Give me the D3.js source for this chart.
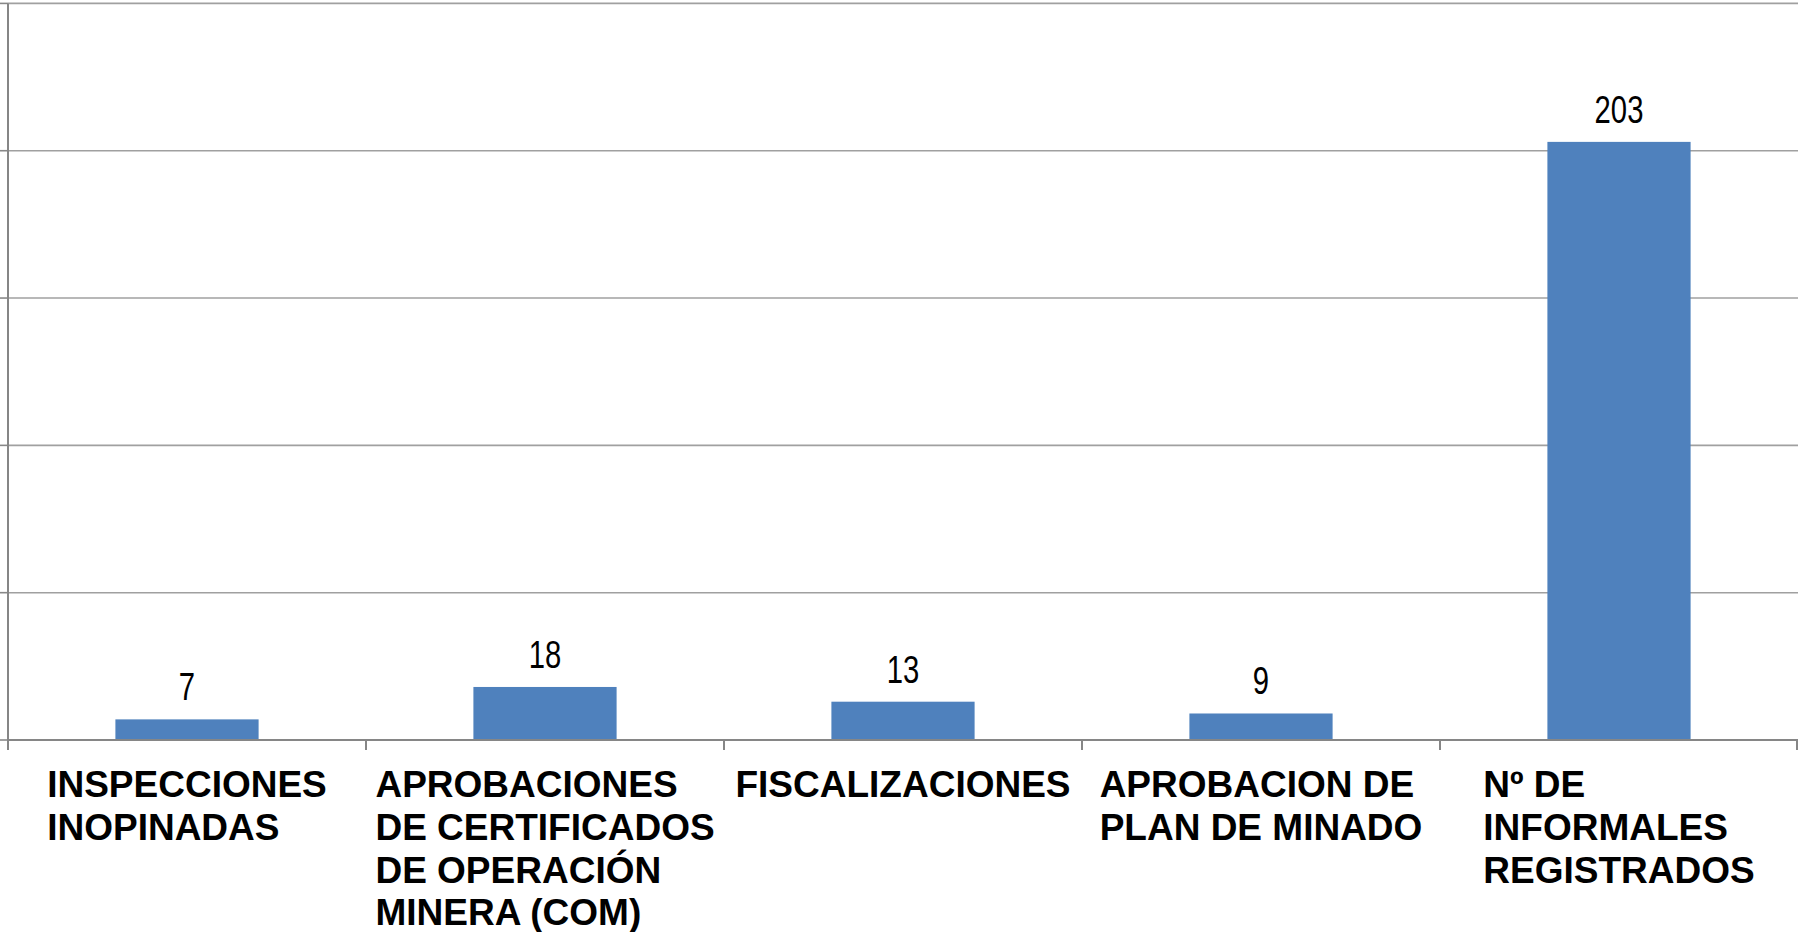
<!DOCTYPE html>
<html>
<head>
<meta charset="utf-8">
<script src="https://cdn.jsdelivr.net/npm/d3@7"></script>
<style>
  html, body { margin: 0; padding: 0; background: #fff; overflow: hidden; }
</style>
</head>
<body>
<div id="chart"></div>
<script>
// Data
var categories = ["INSPECCIONES INOPINADAS",
                  "APROBACIONES DE CERTIFICADOS DE OPERACIÓN MINERA (COM)",
                  "FISCALIZACIONES",
                  "APROBACION DE PLAN DE MINADO",
                  "Nº DE INFORMALES REGISTRADOS"];
var labelLines = [
    ["INSPECCIONES", "INOPINADAS"],
    ["APROBACIONES", "DE CERTIFICADOS", "DE OPERACIÓN", "MINERA (COM)"],
    ["FISCALIZACIONES"],
    ["APROBACION DE", "PLAN DE MINADO"],
    ["Nº DE", "INFORMALES", "REGISTRADOS"]
];
var values = [7, 18, 13, 9, 203];
var yTicks = [0, 50, 100, 150, 200, 250];

var width = 1798, height = 932;
var plotLeft = 8, plotRight = 1798, plotTop = 3.4, plotBottom = 740;

var svg = d3.select("#chart")
    .append("svg")
    .attr("width", width)
    .attr("height", height);

var y = d3.scaleLinear()
    .domain([0, 250])
    .range([plotBottom, plotTop]);

// boundaries of each category
var xCat = d3.scaleBand()
    .domain(categories)
    .range([plotLeft, plotRight])
    .padding(0);

// bars sit in the middle 40% of each category
var x = d3.scaleBand()
    .domain(categories)
    .range([plotLeft, plotRight])
    .paddingInner(0.6)
    .paddingOuter(0.3);

// gridlines
svg.append("g")
    .selectAll("line")
    .data(yTicks.slice(1))
    .enter().append("line")
    .attr("x1", plotLeft)
    .attr("x2", plotRight)
    .attr("y1", d => y(d))
    .attr("y2", d => y(d))
    .attr("stroke", "#a0a0a0")
    .attr("stroke-width", 1.6);

// y axis with ticks, labels are cut off to the left
svg.append("g")
    .selectAll("line")
    .data(yTicks)
    .enter().append("line")
    .attr("x1", 0)
    .attr("x2", plotLeft)
    .attr("y1", d => y(d))
    .attr("y2", d => y(d))
    .attr("stroke", "#888")
    .attr("stroke-width", 1.6);

svg.append("line")
    .attr("x1", plotLeft).attr("x2", plotLeft)
    .attr("y1", y(250)).attr("y2", plotBottom + 10)
    .attr("stroke", "#868686")
    .attr("stroke-width", 2);

// bars
svg.append("g")
    .selectAll("rect")
    .data(values)
    .enter().append("rect")
    .attr("x", (d, i) => x(categories[i]))
    .attr("width", x.bandwidth())
    .attr("y", d => y(d))
    .attr("height", d => y(0) - y(d))
    .attr("fill", "#4f81bd");

// x axis baseline and category ticks
svg.append("line")
    .attr("x1", plotLeft).attr("x2", plotRight)
    .attr("y1", plotBottom).attr("y2", plotBottom)
    .attr("stroke", "#868686")
    .attr("stroke-width", 2);

svg.append("g")
    .selectAll("line")
    .data(categories.map(c => xCat(c)).concat([plotRight - 1]))
    .enter().append("line")
    .attr("x1", d => d).attr("x2", d => d)
    .attr("y1", plotBottom).attr("y2", plotBottom + 10)
    .attr("stroke", "#868686")
    .attr("stroke-width", 2);

// value labels (narrow font)
svg.append("g")
    .selectAll("text")
    .data(values)
    .enter().append("text")
    .attr("transform", (d, i) =>
        `translate(${x(categories[i]) + x.bandwidth() / 2}, ${y(d) - 19}) scale(0.76, 1)`)
    .attr("text-anchor", "middle")
    .style("font-family", "'Liberation Sans', Arial, sans-serif")
    .style("font-size", "38.5px")
    .style("fill", "#000")
    .text(d => d);

// category labels: block centred in band, lines left aligned
var labels = svg.append("g")
    .selectAll("text")
    .data(labelLines)
    .enter().append("text")
    .style("font-family", "'Liberation Sans', Arial, sans-serif")
    .style("font-weight", "bold")
    .style("font-size", "37px")
    .style("fill", "#000");

labels.each(function(lines, i) {
    var t = d3.select(this);
    lines.forEach(function(line, j) {
        t.append("tspan")
            .attr("y", 797 + j * 42.8)
            .text(line);
    });
    var maxW = 0;
    t.selectAll("tspan").each(function() {
        maxW = Math.max(maxW, this.getComputedTextLength());
    });
    var cx = xCat(categories[i]) + xCat.bandwidth() / 2;
    t.selectAll("tspan").attr("x", cx - maxW / 2);
});
</script>
</body>
</html>
